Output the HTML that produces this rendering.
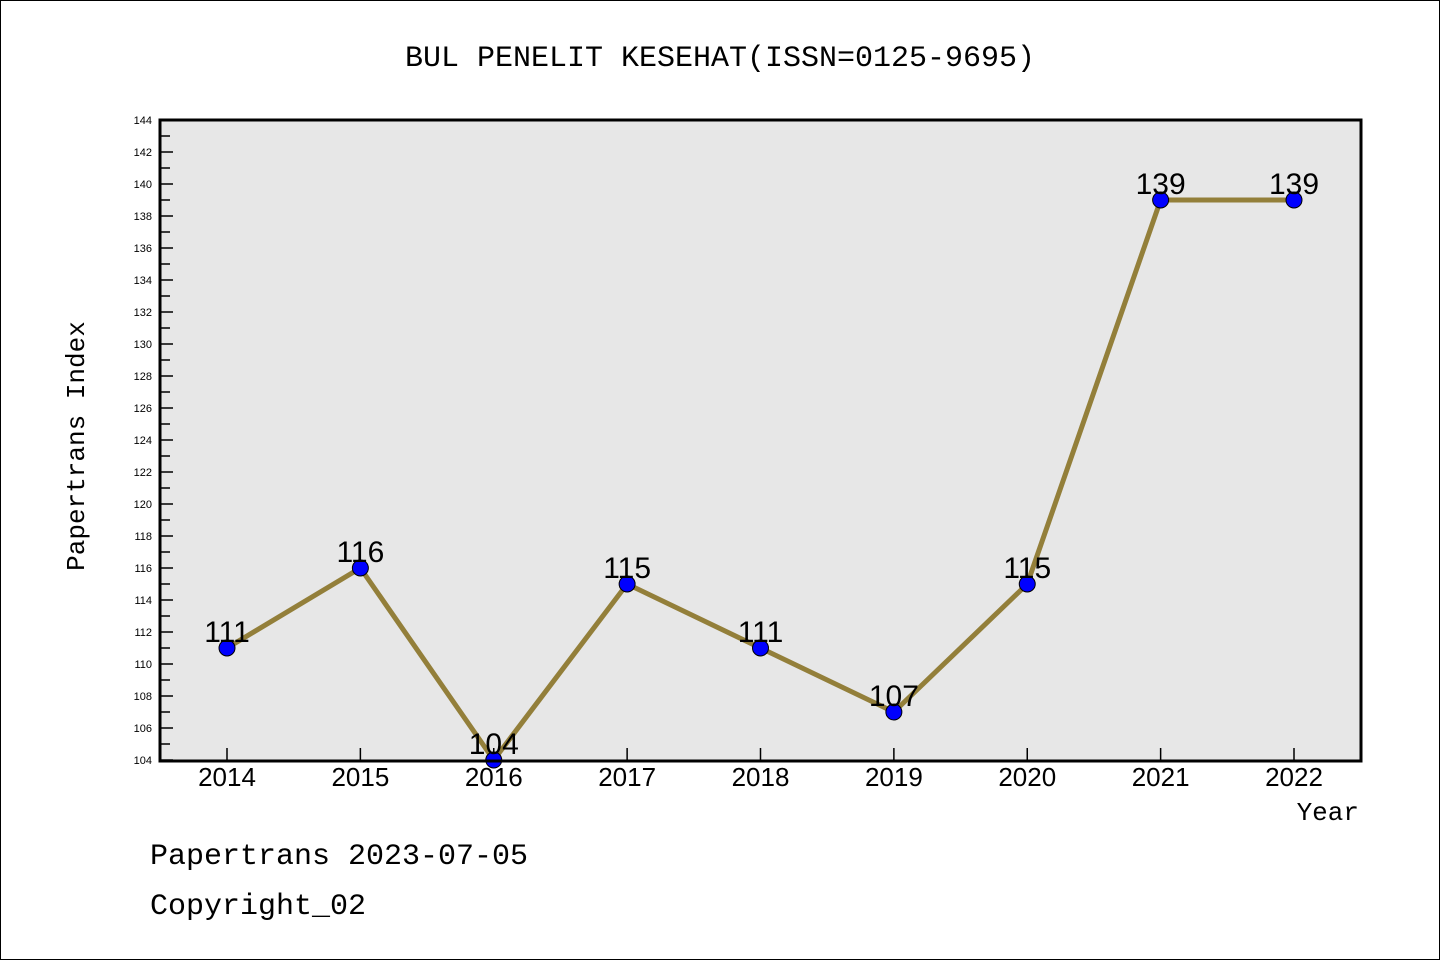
<!DOCTYPE html>
<html><head><meta charset="utf-8"><style>
body{margin:0;background:#fff}
svg{display:block;font-family:"Liberation Mono","DejaVu Sans Mono",monospace}
</style></head><body>
<svg id="chart" width="1440" height="960" viewBox="0 0 1440 960">
<rect x="0.5" y="0.5" width="1439" height="959" fill="#fff" stroke="#000"/>
<text x="720" y="66" font-size="30" text-anchor="middle">BUL PENELIT KESEHAT(ISSN=0125-9695)</text>
<rect x="160" y="120" width="1201" height="641" fill="#e7e7e7"/>
<g id="yaxis"></g>
<g id="xaxis"></g>
<g id="series"></g>
<rect x="160" y="120" width="1201" height="641" fill="none" stroke="#000" stroke-width="3"/>
<text x="84" y="446" font-size="26" text-anchor="middle" transform="rotate(-90 84 446)">Papertrans Index</text>
<text x="1359" y="820" font-size="26" text-anchor="end">Year</text>
<text x="150" y="864" font-size="30">Papertrans 2023-07-05</text>
<text x="150" y="914" font-size="30">Copyright_02</text>
</svg>
<script>
const years = [2014,2015,2016,2017,2018,2019,2020,2021,2022];
const values = [111,116,104,115,111,107,115,139,139];
const yTicks = [104,106,108,110,112,114,116,118,120,122,124,126,128,130,132,134,136,138,140,142,144];
{
const NS="http://www.w3.org/2000/svg";
const yMin=104,yMax=144,plotTop=120,plotBot=760;
const y=v=>plotBot-(v-yMin)/(yMax-yMin)*(plotBot-plotTop);
const x=i=>227+i*(1294-227)/(years.length-1);
function mk(tag,attrs,parent){const e=document.createElementNS(NS,tag);for(const k in attrs)e.setAttribute(k,attrs[k]);parent.appendChild(e);return e;}
const ya=document.getElementById('yaxis'),xa=document.getElementById('xaxis'),sg=document.getElementById('series');
yTicks.forEach(t=>{
  const l=mk('line',{x1:160,x2:173,y1:y(t),y2:y(t),stroke:'#000','stroke-width':1.5},ya);
  
  
  const tx=mk('text',{x:152,y:y(t)+4,'font-size':11,'text-anchor':'end','font-family':'Liberation Sans, sans-serif'},ya);
  tx.textContent=t;
  
  
  if(t<yMax){const m=mk('line',{x1:160,x2:170,y1:y(t+1),y2:y(t+1),stroke:'#000','stroke-width':1.5},ya);
  
  }
});
years.forEach((yr,i)=>{
  const l=mk('line',{x1:x(i),x2:x(i),y1:761,y2:748,stroke:'#000','stroke-width':1.5},xa);
  
  
  const tx=mk('text',{x:x(i),y:786,'font-size':26,'text-anchor':'middle','font-family':'Liberation Sans, sans-serif'},xa);
  tx.textContent=yr;
  
  
});
const pl=mk('polyline',{points:values.map((v,i)=>x(i)+','+y(v)).join(' '),fill:'none',stroke:'#937f3a','stroke-width':5,'stroke-linejoin':'round'},sg);


values.forEach((v,i)=>{
  const c=mk('circle',{cx:x(i),cy:y(v),r:8,fill:'#0000ff',stroke:'#000','stroke-width':1},sg);
  
  
});
values.forEach((v,i)=>{
  const t=mk('text',{x:x(i),y:y(v)-6,'font-size':30,'text-anchor':'middle','font-family':'Liberation Sans, sans-serif'},sg);
  t.textContent=v;
  
  
});
}
</script>
</body></html>
